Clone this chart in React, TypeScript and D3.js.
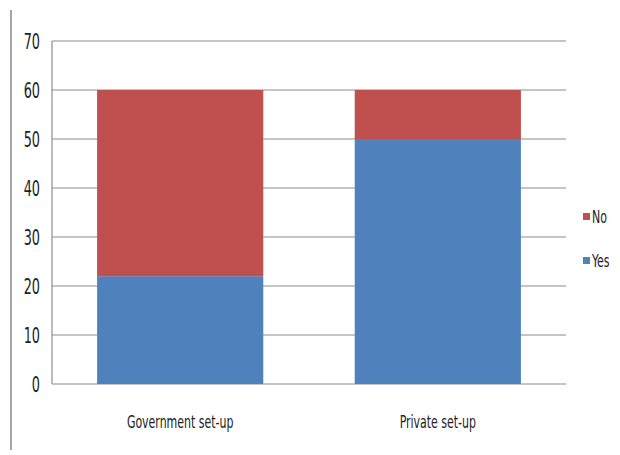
import React from "react";
import * as d3 from "d3";

const categories = ["Government set-up", "Private set-up"];
const seriesNames = ["Yes", "No"];
const yesValues = [22, 50];
const noValues = [38, 10];
const yTicks = [0, 10, 20, 30, 40, 50, 60, 70];
const colors = { Yes: "#4F81BD", No: "#C0504D" };

const W = 620, H = 455;
const left = 52, right = 566, top = 41, bottom = 384;
const FONT = "'Liberation Sans Narrow', 'DejaVu Sans Condensed', 'Open Sans', sans-serif";

function T({ x, y, anchor, size, sx, children }: any) {
  return (
    <text transform={`translate(${x},${y}) scale(${sx},1)`} textAnchor={anchor} fontSize={size}
      fontFamily={FONT} fill="#222" dominantBaseline="central">{children}</text>
  );
}

export default function App() {
  const y = d3.scaleLinear().domain([0, 70]).range([bottom, top]);
  const x = d3.scaleBand().domain(categories).range([left, right]).paddingInner(0.355).paddingOuter(0.175);
  const stackData = categories.map((c, i) => ({ cat: c, Yes: yesValues[i], No: noValues[i] }));
  const stacked = d3.stack<any>().keys(seriesNames)(stackData);
  return (
    <svg width={W} height={H} style={{ position: "absolute", left: 0, top: 0 }}>
      <rect width={W} height={H} fill="#fff" />
      <line x1={11} x2={11} y1={10} y2={450} stroke="#888" strokeWidth={1.5} />
      {yTicks.map((t) => (
        <g key={t}>
          <line x1={left} x2={right} y1={y(t)} y2={y(t)} stroke="#8c8c8c" strokeWidth={1.2} />
          <T x={40} y={y(t)} anchor="end" size={21} sx={0.68}>{t}</T>
        </g>
      ))}
      <line x1={left} x2={left} y1={top} y2={bottom} stroke="#8c8c8c" strokeWidth={1.2} />
      {stacked.map((s) => (
        <g key={s.key} fill={(colors as any)[s.key]}>
          {s.map((d, i) => (
            <rect key={i} x={x(categories[i])} width={x.bandwidth()} y={y(d[1])} height={y(d[0]) - y(d[1])} />
          ))}
        </g>
      ))}
      {categories.map((c) => (
        <T key={c} x={(x(c) as number) + x.bandwidth() / 2} y={422} anchor="middle" size={18.5} sx={0.66}>{c}</T>
      ))}
      {["No", "Yes"].map((n, i) => (
        <g key={n}>
          <rect x={583} y={213 + i * 44} width={7} height={7} fill={(colors as any)[n]} />
          <T x={592} y={217 + i * 44} anchor="start" size={18.5} sx={0.66}>{n}</T>
        </g>
      ))}
    </svg>
  );
}
